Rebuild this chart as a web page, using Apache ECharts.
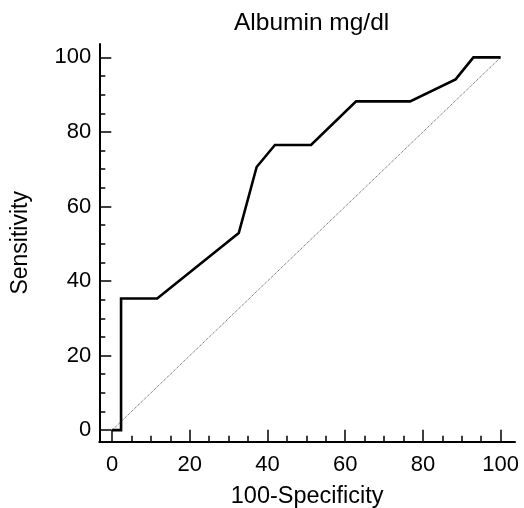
<!DOCTYPE html>
<html>
<head>
<meta charset="utf-8">
<script src="https://cdn.jsdelivr.net/npm/echarts@6/dist/echarts.min.js"></script>
<style>html,body{margin:0;padding:0;background:#fff}#c{width:524px;height:508px}</style>
</head>
<body>
<div id="c"></div>
<script>
var rocX = [0, 2.3, 2.3, 11.6, 32.6, 37.2, 41.9, 51.2, 62.8, 76.7, 88.4, 93.0, 100];
var rocY = [0, 0, 35.3, 35.3, 52.9, 70.6, 76.5, 76.5, 88.2, 88.2, 94.1, 100, 100];
var refX = [0, 100];
var refY = [0, 100];
var majorTicks = [0, 20, 40, 60, 80, 100];
var minorTicks = [0,5,10,15,20,25,30,35,40,45,50,55,60,65,70,75,80,85,90,95,100];
var titleText = 'Albumin mg/dl';
var xName = '100-Specificity';
var yName = 'Sensitivity';

function pairs(xs, ys){ return xs.map(function(v,i){ return [v, ys[i]]; }); }

var FONT = 'Liberation Sans, Arial, sans-serif';
var chart = echarts.init(document.getElementById('c'));
var axBase = {
  type: 'value', min: -3.3, max: 103.7, splitLine: {show:false}
};
chart.setOption({
  animation: false,
  backgroundColor: '#fff',
  title: {
    text: titleText, left: 229, top: 6,
    textStyle: {fontFamily: FONT, fontSize: 24.5, fontWeight: 'normal', color: '#000'}
  },
  grid: {left: 99.3, right: 9, top: 44, bottom: 66.3, containLabel: false, outerBoundsMode: 'none'},
  xAxis: [
    Object.assign({}, axBase, {
      position: 'bottom',
      name: xName, nameLocation: 'middle', nameGap: 43,
      nameTextStyle: {fontFamily: FONT, fontSize: 23.5, color: '#000'},
      axisLine: {onZero: false, lineStyle: {color: '#000', width: 2}},
      axisTick: {inside: true, length: 12, customValues: majorTicks, lineStyle: {color: '#000', width: 1.5}},
      axisLabel: {customValues: majorTicks, fontFamily: FONT, fontSize: 22, color: '#000', margin: 12}
    }),
    Object.assign({}, axBase, {
      position: 'bottom',
      axisLine: {show: false, onZero: false},
      axisTick: {inside: true, length: 6, customValues: minorTicks, lineStyle: {color: '#000', width: 1.5}},
      axisLabel: {show: false}
    })
  ],
  yAxis: [
    Object.assign({}, axBase, {
      min: -3.1, max: 103.6,
      position: 'left',
      name: yName, nameLocation: 'middle', nameGap: 67, nameRotate: 90,
      nameTextStyle: {fontFamily: FONT, fontSize: 23, color: '#000'},
      axisLine: {onZero: false, lineStyle: {color: '#000', width: 2}},
      axisTick: {inside: true, length: 12, customValues: majorTicks, lineStyle: {color: '#000', width: 1.5}},
      axisLabel: {customValues: majorTicks, fontFamily: FONT, fontSize: 22, color: '#000', margin: 8}
    }),
    Object.assign({}, axBase, {
      min: -3.1, max: 103.6,
      position: 'left',
      axisLine: {show: false, onZero: false},
      axisTick: {inside: true, length: 6, customValues: minorTicks, lineStyle: {color: '#000', width: 1.5}},
      axisLabel: {show: false}
    })
  ],
  series: [
    {
      type: 'line', data: pairs(refX, refY), symbol: 'none', silent: true,
      lineStyle: {color: '#555', width: 1, type: [1, 1]}
    },
    {
      type: 'line', data: pairs(rocX, rocY), symbol: 'none', silent: true,
      lineStyle: {color: '#000', width: 2.6, join: 'miter'}
    }
  ]
});
</script>
</body>
</html>
